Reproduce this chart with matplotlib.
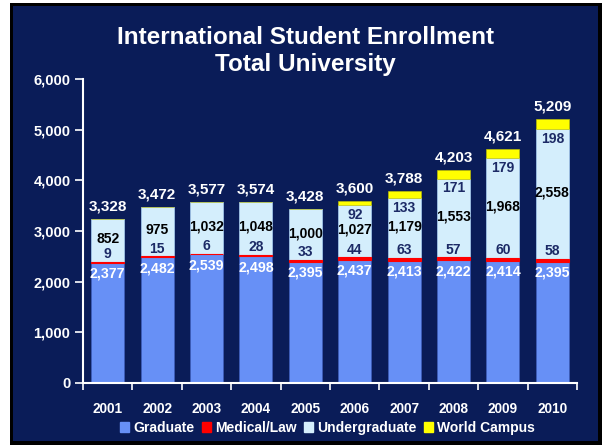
import matplotlib
matplotlib.use("Agg")
import matplotlib.pyplot as plt
from matplotlib.patches import Rectangle
import numpy as np

years = ["2001", "2002", "2003", "2004", "2005", "2006", "2007", "2008", "2009", "2010"]
graduate = [2377, 2482, 2539, 2498, 2395, 2437, 2413, 2422, 2414, 2395]
medical = [9, 15, 6, 28, 33, 44, 63, 57, 60, 58]
undergrad = [852, 975, 1032, 1048, 1000, 1027, 1179, 1553, 1968, 2558]
world = [0, 0, 0, 0, 0, 92, 133, 171, 179, 198]
total_labels = ["3,328", "3,472", "3,577", "3,574", "3,428", "3,600", "3,788", "4,203", "4,621", "5,209"]

NAVY = "#0a1c58"
GRAD = "#6790f6"
MED = "#ff0000"
UND = "#d4eefc"
WC = "#ffff00"
LABNAVY = "#1c2a66"

plt.rcParams['font.family'] = ['Liberation Sans', 'DejaVu Sans']

W, H = 602, 445
fig = plt.figure(figsize=(W / 100, H / 100), dpi=100)
fig.patch.set_facecolor("white")

def px_rect(x0, y0, x1, y1, color, z):
    fig.patches.append(Rectangle((x0 / W, 1 - y1 / H), (x1 - x0) / W, (y1 - y0) / H,
                                 transform=fig.transFigure, facecolor=color,
                                 edgecolor="none", zorder=z))

px_rect(10, 3, 602, 445, "black", -10)
px_rect(13, 6, 598, 441, NAVY, -9)

ax = fig.add_axes([83 / W, 1 - 383 / H, (577 - 83) / W, (383 - 79) / H])
ax.set_facecolor("none")

x = np.arange(len(years))
g = np.array(graduate)
m = np.array(medical)
u = np.array(undergrad)
w = np.array(world)
bw = 0.67
ec = "#3d5cb8"
ax.bar(x, g, bw, color=GRAD, edgecolor=ec, linewidth=0.6, zorder=2)
ax.bar(x, m, bw, bottom=g, color=MED, edgecolor=MED, linewidth=0.8, zorder=3)
ax.bar(x, u, bw, bottom=g + m, color=UND, edgecolor="#9fc3e6", linewidth=0.6, zorder=2)
ax.bar(x, w, bw, bottom=g + m + u, color=WC, edgecolor="#c8c800", linewidth=0.4, zorder=2)

for i in range(len(years)):
    gt = g[i]
    mt = g[i] + m[i]
    ut = mt + u[i]
    tt = ut + w[i]
    ax.annotate(f"{g[i]:,}", (x[i], gt), xytext=(0, -3), textcoords="offset points",
                ha="center", va="top", color="white", fontsize=10.2, fontweight="bold", zorder=5)
    ax.annotate(f"{m[i]:,}", (x[i], mt), xytext=(0, 0.5), textcoords="offset points",
                ha="center", va="bottom", color=LABNAVY, fontsize=10, fontweight="bold", zorder=5)
    ax.text(x[i], (mt + ut) / 2 + 30, f"{u[i]:,}", ha="center", va="center",
            color="black", fontsize=10, fontweight="bold", zorder=5)
    if w[i] > 0:
        ax.annotate(f"{w[i]:,}", (x[i], ut), xytext=(0, -2), textcoords="offset points",
                    ha="center", va="top", color=LABNAVY, fontsize=10, fontweight="bold", zorder=5)
    ax.annotate(total_labels[i], (x[i], tt), xytext=(0, 4), textcoords="offset points",
                ha="center", va="bottom", color="white", fontsize=11, fontweight="bold", zorder=5)

ax.set_xlim(-0.5, len(years) - 0.5)
ax.set_ylim(0, 6000)
ax.set_yticks(range(0, 6001, 1000))
ax.set_yticklabels([f"{v:,}" for v in range(0, 6001, 1000)])
ax.set_xticks(np.arange(-0.5, len(years), 1.0))
ax.set_xticklabels([])
ax.set_xticks(x, minor=True)
ax.set_xticklabels(years, minor=True)
ax.tick_params(axis="x", which="major", colors="white", length=5, width=1.2, direction="out")
ax.tick_params(axis="x", which="minor", length=0, pad=14, labelcolor="white", labelsize=9.8)
ax.tick_params(axis="y", colors="white", length=6, width=1.2, labelsize=10.5, pad=3)
for lab in ax.get_xticklabels(minor=True) + ax.get_yticklabels():
    lab.set_fontweight("bold")
for s in ["top", "right"]:
    ax.spines[s].set_visible(False)
for s in ["left", "bottom"]:
    ax.spines[s].set_color("white")
    ax.spines[s].set_linewidth(1.5)
    ax.spines[s].set_zorder(6)

fig.text(0.507, 1 - 38 / H, "International Student Enrollment", ha="center", va="center",
         color="white", fontsize=17.5, fontweight="bold")
fig.text(0.507, 1 - 65 / H, "Total University", ha="center", va="center",
         color="white", fontsize=17.5, fontweight="bold")

handles = [Rectangle((0, 0), 1, 1, color=c) for c in [GRAD, MED, UND, WC]]
leg = fig.legend(handles, ["Graduate", "Medical/Law", "Undergraduate", "World Campus"],
                 loc="center", bbox_to_anchor=(0.544, 1 - 428 / H), ncol=4, frameon=False,
                 handlelength=0.65, handleheight=0.65, handletextpad=0.3, columnspacing=0.55,
                 prop={"size": 10, "weight": "bold"})
for t in leg.get_texts():
    t.set_color("white")

fig.savefig("out.png", dpi=100, facecolor=fig.get_facecolor())
